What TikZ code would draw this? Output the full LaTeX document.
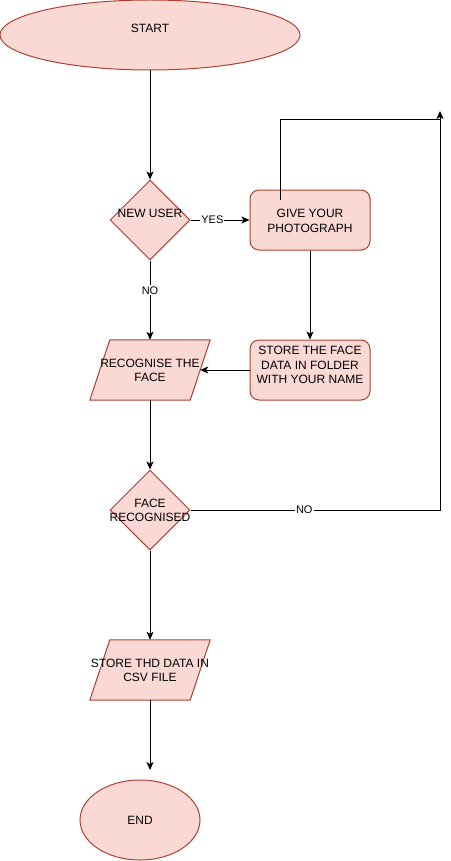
\documentclass[tikz,border=0pt]{standalone}
\usepackage{fontspec}
\setmainfont{Liberation Sans}
\usetikzlibrary{shapes.geometric,arrows.meta}
\definecolor{fillc}{HTML}{FAD9D5}
\definecolor{linec}{HTML}{AE4132}
\begin{document}
\begin{tikzpicture}[x=1pt,y=-1pt,
  shp/.style={draw=linec,fill=fillc,line width=1pt,inner sep=0pt},
  ghost/.style={draw=none,inner sep=0pt,minimum width=100pt,minimum height=60pt},
  para/.style={draw=linec,fill=fillc,line width=1pt},
  txt/.style={font=\fontsize{12}{14.5}\selectfont,align=center,text=black,inner sep=0pt},
  conn/.style={line width=1pt,-{Stealth[length=8pt,width=7pt,inset=2pt]}},
  plain/.style={line width=1pt},
  lbl/.style={font=\fontsize{11}{13}\selectfont,fill=white,inner sep=1pt,text=black}]
\useasboundingbox (0,0) rectangle (450,861);
% shapes
\node[shp,ellipse,minimum width=300pt,minimum height=70pt] (start) at (150,35) {};
\node[txt] (startT) at (150,28) {START};
\node[shp,diamond,minimum width=80pt,minimum height=80pt] (newu) at (150,220) {};
\node[txt] (newuT) at (150,213) {NEW USER};
\node[shp,rounded corners=9pt,minimum width=120pt,minimum height=60pt] (give) at (310,220) {};
\node[txt] (giveT) at (310,221) {GIVE YOUR\\PHOTOGRAPH};
\node[shp,rounded corners=9pt,minimum width=120pt,minimum height=60pt] (store) at (310,370) {};
\node[txt] (storeT) at (310,365) {STORE THE FACE\\DATA IN FOLDER\\WITH YOUR NAME};
\node[ghost] (recog) at (150,370) {};
\draw[para] ([xshift=10pt]recog.north west) -- ([xshift=10pt]recog.north east) -- ([xshift=-10pt]recog.south east) -- ([xshift=-10pt]recog.south west) -- cycle;
\node[txt] (recogT) at (150,370.5) {RECOGNISE THE\\FACE};
\node[shp,diamond,minimum width=80pt,minimum height=80pt] (facer) at (150,510) {};
\node[txt] (facerT) at (150,510.5) {FACE\\RECOGNISED};
\node[ghost] (csv) at (150,670) {};
\draw[para] ([xshift=10pt]csv.north west) -- ([xshift=10pt]csv.north east) -- ([xshift=-10pt]csv.south east) -- ([xshift=-10pt]csv.south west) -- cycle;
\node[txt] (csvT) at (150,670.5) {STORE THD DATA IN\\CSV FILE};
\node[shp,ellipse,minimum width=120pt,minimum height=80pt] (endn) at (140,820) {};
\node[txt] (endT) at (140,820) {END};
% connectors
\coordinate (corner) at (440,120);
\coordinate (loopend) at (440,111);
\coordinate (endtip) at (150,770);
\draw[conn] (start.south) -- (newu.north);
\draw[conn] (newu.east) -- node[lbl,pos=0.37]{YES} (give.west);
\draw[conn] (newu.south) -- node[lbl,pos=0.375]{NO} (recog.north);
\draw[conn] (give.south) -- (store.north);
\draw[conn] (store.west) -- (recog.east);
\draw[conn] (recog.south) -- (facer.north);
\draw[conn] (facer.south) -- (csv.north);
\draw[conn] (csv.south) -- (endtip);
\draw[conn] ([xshift=-30pt,yshift=-10pt]give.north) |- (corner) -- (loopend);
\draw[plain] (facer.east) -| node[lbl,pos=0.228]{NO} (corner);
\end{tikzpicture}
\end{document}
